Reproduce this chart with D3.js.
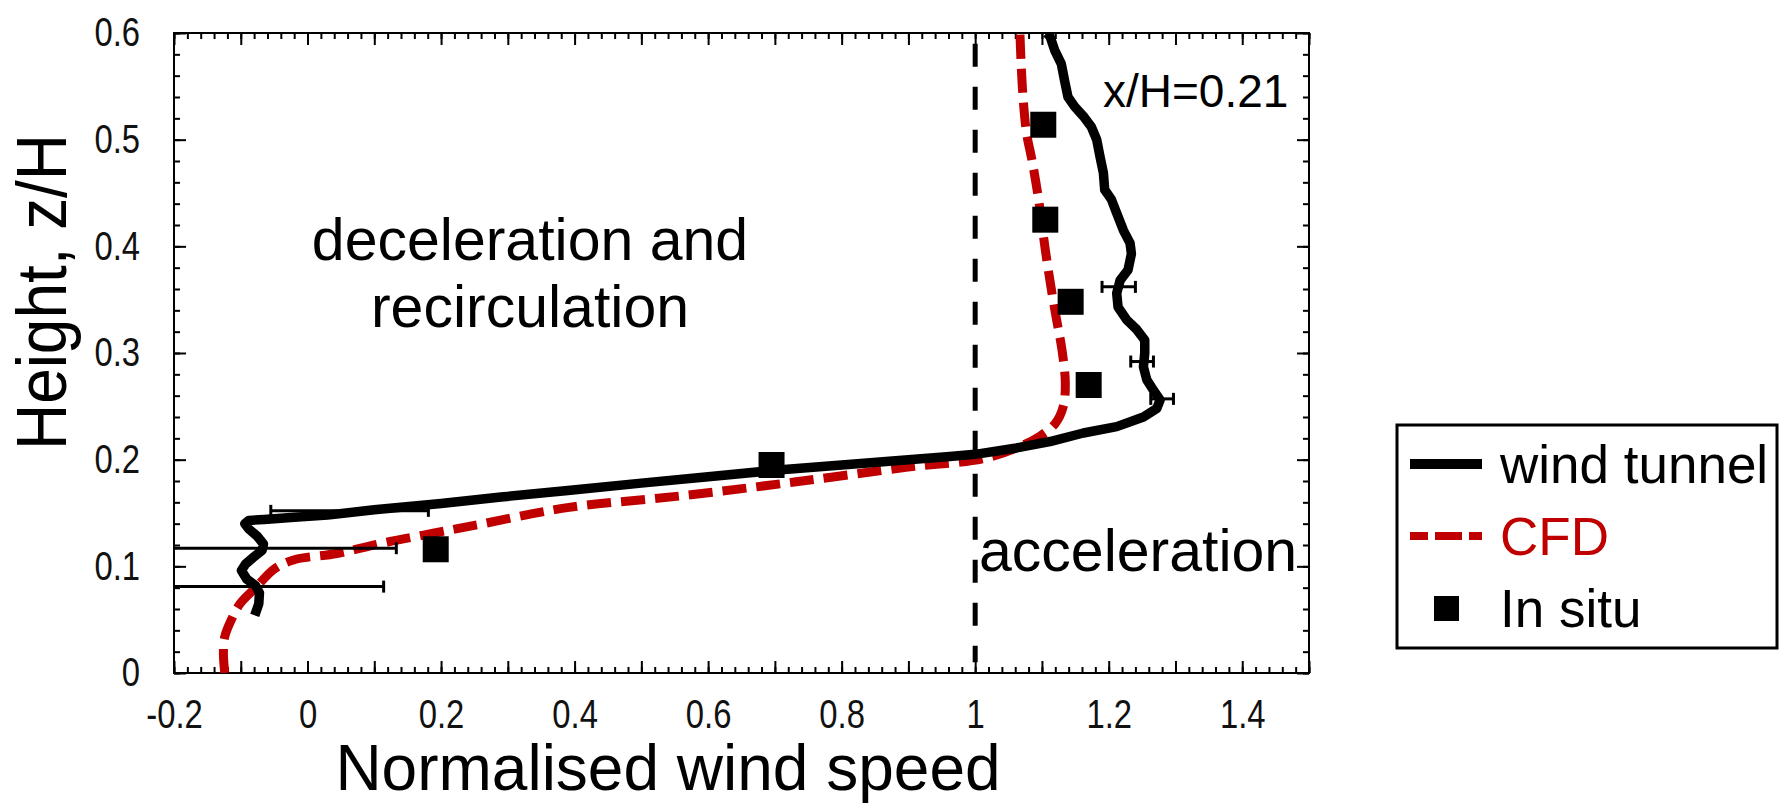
<!DOCTYPE html>
<html>
<head>
<meta charset="utf-8">
<script src="https://cdn.jsdelivr.net/npm/d3@7"></script>
<style>
body { margin: 0; background: #fff; }
text { font-family: "Liberation Sans", Arial, sans-serif; }
</style>
</head>
<body>
<div id="the_chart"></div>
<script>
// wind tunnel profile, [u, z/H]
let windTunnel = [
    [-0.079, 0.054], [-0.073, 0.065], [-0.072, 0.075], [-0.078, 0.082], [-0.091, 0.088],
    [-0.099, 0.096], [-0.093, 0.102], [-0.082, 0.108], [-0.068, 0.115], [-0.066, 0.121],
    [-0.075, 0.128], [-0.088, 0.135], [-0.094, 0.140], [-0.088, 0.143], [-0.065, 0.144],
    [-0.02, 0.146], [0.03, 0.148], [0.10, 0.153], [0.2, 0.159], [0.29, 0.165],
    [0.39, 0.171], [0.5, 0.178], [0.6, 0.184], [0.7, 0.190], [0.8, 0.195],
    [0.9, 0.200], [0.962, 0.203], [1.0, 0.205], [1.062, 0.211], [1.112, 0.217],
    [1.162, 0.225], [1.212, 0.231], [1.252, 0.240], [1.272, 0.248], [1.277, 0.256],
    [1.267, 0.265], [1.257, 0.275], [1.252, 0.287], [1.254, 0.300], [1.254, 0.312],
    [1.242, 0.322], [1.227, 0.331], [1.214, 0.343], [1.212, 0.356], [1.217, 0.368],
    [1.229, 0.378], [1.234, 0.393], [1.232, 0.403], [1.222, 0.415], [1.212, 0.431],
    [1.204, 0.444], [1.194, 0.453], [1.192, 0.469], [1.187, 0.484], [1.182, 0.500],
    [1.174, 0.512], [1.162, 0.522], [1.149, 0.531], [1.139, 0.540], [1.134, 0.555],
    [1.129, 0.571], [1.119, 0.584], [1.112, 0.597], [1.107, 0.600]
];
// CFD profile
let cfd = [
    [-0.124, 0.0], [-0.126, 0.019], [-0.124, 0.034], [-0.114, 0.050], [-0.101, 0.065],
    [-0.076, 0.081], [-0.051, 0.097], [-0.021, 0.106], [0.044, 0.112], [0.114, 0.122],
    [0.188, 0.131], [0.263, 0.140], [0.389, 0.155], [0.559, 0.166], [0.729, 0.179],
    [0.899, 0.193], [1.012, 0.201], [1.062, 0.211], [1.097, 0.222], [1.120, 0.234],
    [1.132, 0.250], [1.135, 0.272], [1.130, 0.303], [1.122, 0.331], [1.115, 0.356],
    [1.105, 0.397], [1.095, 0.444], [1.085, 0.481], [1.077, 0.506], [1.072, 0.537],
    [1.069, 0.569], [1.067, 0.600]
];
let inSitu = [[0.192, 0.116], [0.695, 0.195], [1.170, 0.270], [1.143, 0.348], [1.105, 0.425], [1.102, 0.514]];
// error bars on wind tunnel: [u, z, half width]
let errBars = [
    [-0.071, 0.117, 0.204], [-0.086, 0.081, 0.2], [0.063, 0.152, 0.118],
    [1.215, 0.362, 0.025], [1.25, 0.292, 0.017], [1.28, 0.257, 0.017]
];
let xTicks = [-0.2, 0, 0.2, 0.4, 0.6, 0.8, 1, 1.2, 1.4];
let yTicks = [0, 0.1, 0.2, 0.3, 0.4, 0.5, 0.6];
let legendNames = ["wind tunnel", "CFD", "In situ"];

gen_vis();

function gen_vis() {
    var w = 1779, h = 807;
    var x0 = 174, x1 = 1309, y0 = 673, y1 = 33;
    var red = "#c00000";
    var xscale = d3.scaleLinear().domain([-0.2, 1.5]).range([x0, x1]);
    var yscale = d3.scaleLinear().domain([0, 0.6]).range([y0, y1]);

    var svg = d3.select("#the_chart").append("svg")
        .attr("width", w).attr("height", h);
    svg.append("rect").attr("width", w).attr("height", h).attr("fill", "#fff");

    svg.append("clipPath").attr("id", "clip")
        .append("rect").attr("x", x0).attr("y", y1).attr("width", x1 - x0).attr("height", y0 - y1);

    var minorX = d3.range(-0.2, 1.5001, 0.02);
    var majorX = d3.range(-0.2, 1.5001, 0.1);
    var minorY = d3.range(0, 0.6001, 0.02);
    var majorY = d3.range(0, 0.6001, 0.1);

    function addAxis(axis, tr, vals, size) {
        var g = svg.append("g").attr("transform", tr)
            .call(axis.tickValues(vals).tickSizeInner(size).tickSizeOuter(0).tickFormat(""));
        g.select(".domain").remove();
        g.selectAll("line").attr("stroke", "#000").attr("stroke-width", 2);
        return g;
    }
    addAxis(d3.axisBottom(xscale), "translate(0," + y0 + ")", minorX, -6);
    addAxis(d3.axisBottom(xscale), "translate(0," + y0 + ")", majorX, -12);
    addAxis(d3.axisTop(xscale), "translate(0," + y1 + ")", minorX, -6);
    addAxis(d3.axisTop(xscale), "translate(0," + y1 + ")", majorX, -12);
    addAxis(d3.axisLeft(yscale), "translate(" + x0 + ",0)", minorY, -6);
    addAxis(d3.axisLeft(yscale), "translate(" + x0 + ",0)", majorY, -12);
    addAxis(d3.axisRight(yscale), "translate(" + x1 + ",0)", minorY, -6);
    addAxis(d3.axisRight(yscale), "translate(" + x1 + ",0)", majorY, -12);

    // labelled axes: narrow digits, plain hyphen for minus
    var xl = svg.append("g").attr("transform", "translate(0," + y0 + ")")
        .call(d3.axisBottom(xscale).tickValues(xTicks).tickSize(0).tickPadding(27).tickFormat(String));
    var yl = svg.append("g").attr("transform", "translate(" + x0 + ",0)")
        .call(d3.axisLeft(yscale).tickValues(yTicks).tickSize(0).tickPadding(34).tickFormat(String));
    [xl, yl].forEach(function (g) {
        g.select(".domain").remove();
        g.selectAll("text").attr("font-size", 40).attr("fill", "#111")
            .attr("font-family", "Liberation Sans, Arial, sans-serif")
            .each(function () {
                var len = this.getComputedTextLength();
                d3.select(this).attr("textLength", len * 0.82).attr("lengthAdjust", "spacingAndGlyphs");
            });
    });

    svg.append("rect").attr("x", x0).attr("y", y1).attr("width", x1 - x0).attr("height", y0 - y1)
        .attr("fill", "none").attr("stroke", "#000").attr("stroke-width", 2);

    var plot = svg.append("g").attr("clip-path", "url(#clip)");

    // u = 1 reference
    plot.append("line")
        .attr("x1", xscale(1)).attr("x2", xscale(1))
        .attr("y1", yscale(0.59)).attr("y2", yscale(0.01))
        .attr("stroke", "#000").attr("stroke-width", 5).attr("stroke-dasharray", "23,20");

    var line = d3.line()
        .x(function (d) { return xscale(d[0]); })
        .y(function (d) { return yscale(d[1]); });

    plot.append("path").datum(cfd)
        .attr("d", line.curve(d3.curveCatmullRom))
        .attr("fill", "none").attr("stroke", red).attr("stroke-width", 9)
        .attr("stroke-dasharray", "24,10");

    plot.selectAll(".err").data(errBars).enter().append("g").each(function (d) {
        var g = d3.select(this);
        var yy = yscale(d[1]);
        g.append("line").attr("x1", xscale(d[0] - d[2])).attr("x2", xscale(d[0] + d[2]))
            .attr("y1", yy).attr("y2", yy).attr("stroke", "#000").attr("stroke-width", 3);
        [d[0] - d[2], d[0] + d[2]].forEach(function (v) {
            g.append("line").attr("x1", xscale(v)).attr("x2", xscale(v))
                .attr("y1", yy - 6).attr("y2", yy + 6).attr("stroke", "#000").attr("stroke-width", 3);
        });
    });

    plot.append("path").datum(windTunnel)
        .attr("d", line.curve(d3.curveLinear))
        .attr("fill", "none").attr("stroke", "#000").attr("stroke-width", 9.5)
        .attr("stroke-linejoin", "round");

    var sq = 26;
    plot.selectAll(".sq").data(inSitu).enter().append("rect")
        .attr("x", function (d) { return xscale(d[0]) - sq / 2; })
        .attr("y", function (d) { return yscale(d[1]) - sq / 2; })
        .attr("width", sq).attr("height", sq).attr("fill", "#000");

    // annotations
    svg.append("text").attr("x", 530).attr("y", 260).attr("text-anchor", "middle")
        .attr("font-size", 59).text("deceleration and");
    svg.append("text").attr("x", 530).attr("y", 327).attr("text-anchor", "middle")
        .attr("font-size", 59).text("recirculation");
    svg.append("text").attr("x", 979).attr("y", 571)
        .attr("font-size", 59).text("acceleration");
    svg.append("text").attr("x", 1103).attr("y", 107)
        .attr("font-size", 46).text("x/H=0.21");

    // axis titles
    svg.append("text").attr("x", 668).attr("y", 790).attr("text-anchor", "middle")
        .attr("font-size", 64).text("Normalised wind speed");
    svg.append("text").attr("transform", "translate(66,292) rotate(-90)").attr("text-anchor", "middle")
        .attr("font-size", 70).attr("textLength", 316).attr("lengthAdjust", "spacingAndGlyphs")
        .text("Height, z/H");

    // legend
    var lg = svg.append("g");
    lg.append("rect").attr("x", 1397).attr("y", 425).attr("width", 380).attr("height", 223)
        .attr("fill", "#fff").attr("stroke", "#000").attr("stroke-width", 3);
    lg.append("line").attr("x1", 1410).attr("x2", 1482).attr("y1", 464).attr("y2", 464)
        .attr("stroke", "#000").attr("stroke-width", 10);
    lg.append("line").attr("x1", 1410).attr("x2", 1482).attr("y1", 536).attr("y2", 536)
        .attr("stroke", red).attr("stroke-width", 8).attr("stroke-dasharray", "18,7,27,7");
    lg.append("rect").attr("x", 1434).attr("y", 596).attr("width", 25).attr("height", 25).attr("fill", "#000");
    var ly = [483, 555, 627];
    legendNames.forEach(function (n, i) {
        lg.append("text").attr("x", 1500).attr("y", ly[i]).attr("font-size", 53)
            .attr("fill", i == 1 ? red : "#000").text(n);
    });
}
</script>
</body>
</html>
